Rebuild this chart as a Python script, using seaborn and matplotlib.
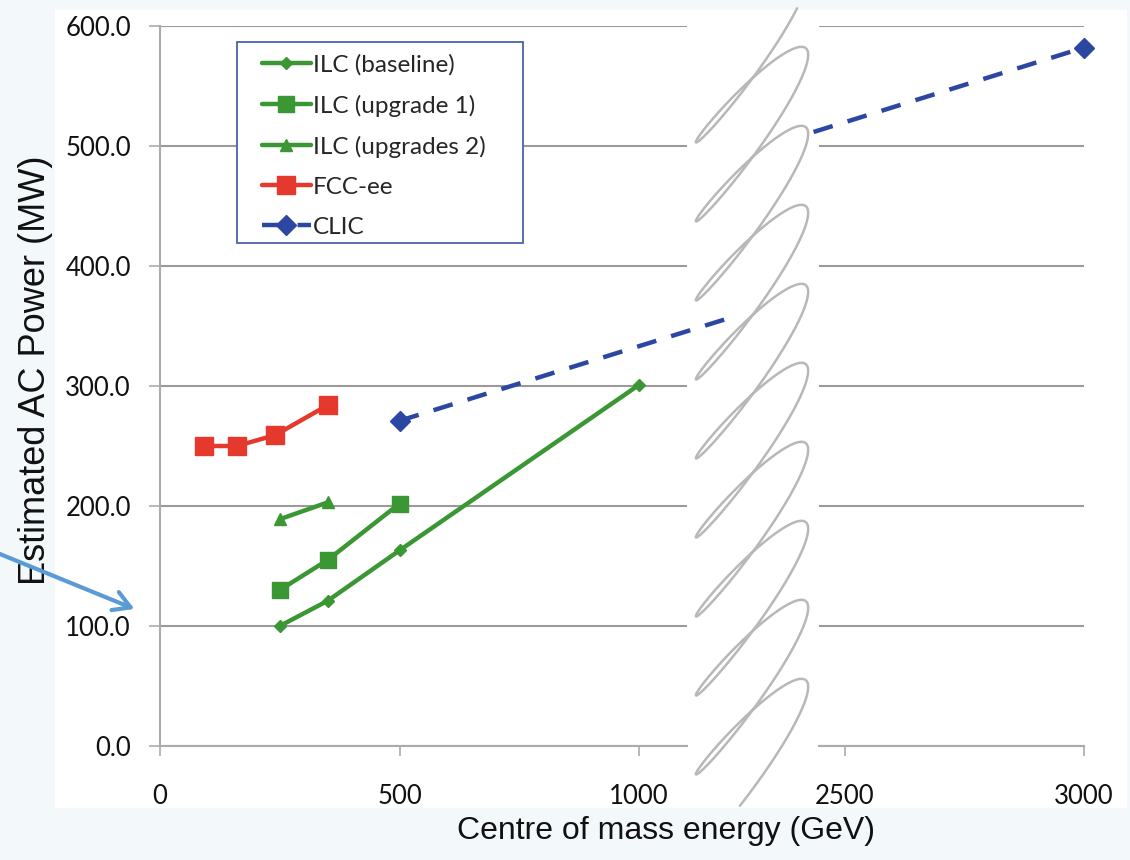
import numpy as np
import matplotlib
matplotlib.use("Agg")
import matplotlib.pyplot as plt
import seaborn as sns
from matplotlib.lines import Line2D
from matplotlib.patches import Rectangle, FancyArrowPatch
from matplotlib.transforms import Bbox, TransformedBbox

# data (GeV, MW)
ilc_base_x = [250, 350, 500, 1000]
ilc_base_y = [100, 121, 163, 301]
ilc_up1_x = [250, 350, 500]
ilc_up1_y = [130, 155, 202]
ilc_up2_x = [250, 350]
ilc_up2_y = [189, 203]
fcc_x = [91, 160, 240, 350]
fcc_y = [250, 250, 259, 284]
clic_x = [500, 3000]
clic_y = [271, 582]

x_ticks_left = [0, 500, 1000]
x_ticks_right = [2500, 3000]
y_ticks = [0, 100, 200, 300, 400, 500, 600]

GREEN = "#3b9634"
RED = "#e5392e"
BLUE = "#2c47a2"
GRID = "#9a9a9a"
SPINE = "#ababab"

sns.set_theme(style="white")
plt.rcParams["font.family"] = ["Lato", "DejaVu Sans"]

W, H = 1130, 860


def fx(px):
    return px / W


def fy(py):
    return 1 - py / H


fig = plt.figure(figsize=(W / 100, H / 100), dpi=100, facecolor="#f3f8fb")
fig.patches.append(Rectangle((fx(55), fy(808)), fx(1127) - fx(55), fy(10) - fy(808),
                             transform=fig.transFigure, facecolor="white",
                             edgecolor="none", zorder=-1))

# broken x axis: two panels
ax1 = fig.add_axes([fx(160), fy(746), fx(687) - fx(160), fy(26) - fy(746)])
ax2 = fig.add_axes([fx(819), fy(746), fx(1084) - fx(819), fy(26) - fy(746)])

series = [
    ("ILC (baseline)", ilc_base_x, ilc_base_y, GREEN, "D", 6, "-"),
    ("ILC (upgrade 1)", ilc_up1_x, ilc_up1_y, GREEN, "s", 12, "-"),
    ("ILC (upgrades 2)", ilc_up2_x, ilc_up2_y, GREEN, "^", 9, "-"),
    ("FCC-ee", fcc_x, fcc_y, RED, "s", 12.5, "-"),
    ("CLIC", clic_x, clic_y, BLUE, "D", 10.5, (0, (4.5, 3.5))),
]

for label, xs, ys, col, mk, ms, ls in series:
    for ax in (ax1, ax2):
        n0 = len(ax.lines)
        sns.lineplot(x=xs, y=ys, ax=ax, color=col, marker=mk, markersize=ms,
                     markeredgecolor=col, markeredgewidth=1, linewidth=3.2,
                     linestyle=ls, label=label if ax is ax1 else None)
        for ln in ax.lines[n0:]:
            ln.set_clip_box(TransformedBbox(Bbox([[-0.05, 0], [1.08, 1.05]]), ax.transAxes))

for ax in (ax1, ax2):
    ax.set_ylim(0, 600)
    ax.set_yticks(y_ticks)
    ax.yaxis.grid(True, color=GRID, linewidth=1.5)
    ax.xaxis.grid(False)
    ax.set_axisbelow(True)
    ax.set_facecolor("none")
    for s in ("top", "right", "left"):
        ax.spines[s].set_visible(False)
    ax.spines["bottom"].set_color(SPINE)
    ax.spines["bottom"].set_linewidth(1.5)
    ax.tick_params(axis="x", direction="out", length=7, width=1.2, color=SPINE,
                   pad=20, labelsize=18.5, labelcolor="#111111", bottom=True)
    ax.set_xlabel("")
    ax.set_ylabel("")

ax1.set_xlim(0, 1100)
ax1.set_xticks(x_ticks_left)
ax1.set_xticklabels([str(v) for v in x_ticks_left])
ax1.spines["left"].set_visible(True)
ax1.spines["left"].set_color(SPINE)
ax1.spines["left"].set_linewidth(1.5)
ax1.set_yticklabels([f"{v:.1f}" for v in y_ticks])
ax1.tick_params(axis="y", direction="out", length=8, width=1.2, color=SPINE,
                pad=13, labelsize=18.5, labelcolor="#111111", left=True)

ax2.set_xlim(2446, 3000)
ax2.set_xticks(x_ticks_right)
ax2.set_xticklabels([str(v) for v in x_ticks_right])
ax2.tick_params(axis="y", left=False, labelleft=False)

# legend box
ax1.add_patch(Rectangle((fx(237), fy(243)), fx(523) - fx(237), fy(42) - fy(243),
                        transform=fig.transFigure, facecolor="white",
                        edgecolor="#4a62b0", linewidth=1.3, clip_on=False, zorder=4))
ax1.legend(loc="upper left", bbox_to_anchor=(fx(262), fy(54)),
           bbox_transform=fig.transFigure, frameon=False, fontsize=17.5,
           handlelength=2.0, handletextpad=0.1, labelspacing=0.78,
           borderpad=0, borderaxespad=0)

# axis-break squiggle (looped scribble)
t = np.linspace(-2 * np.pi, 2 * np.pi * 8.45, 4000)
th = np.deg2rad(50)
a, b = 86, 13
cy = 116 + 79 * t / (2 * np.pi)
sx = 752 + a * np.cos(t) * np.cos(th) + b * np.sin(t) * np.sin(th)
sy = cy - a * np.cos(t) * np.sin(th) + b * np.sin(t) * np.cos(th)
sy = np.where((sy > 8) & (sy < 806), sy, np.nan)
fig.add_artist(Line2D(fx(sx), fy(sy), transform=fig.transFigure,
                      color="#b8b8b8", linewidth=1.8, zorder=3))

# axis titles
fig.text(fx(36), fy(370), "Estimated AC Power (MW)", rotation=90, ha="center",
         va="center", fontsize=26, family=["Liberation Sans", "DejaVu Sans"],
         color="#111111")
fig.text(fx(666), fy(831), "Centre of mass energy (GeV)", ha="center", va="center",
         fontsize=23, family=["Liberation Sans", "DejaVu Sans"], color="#111111")

# pointer arrow from the slide
fig.add_artist(FancyArrowPatch(
    (fx(-5), fy(552)), (fx(137), fy(610)), transform=fig.transFigure,
    arrowstyle="->,head_length=12,head_width=7", color="#5b9bd5",
    linewidth=3, zorder=6))

fig.savefig("out.png", dpi=100, facecolor=fig.get_facecolor())
